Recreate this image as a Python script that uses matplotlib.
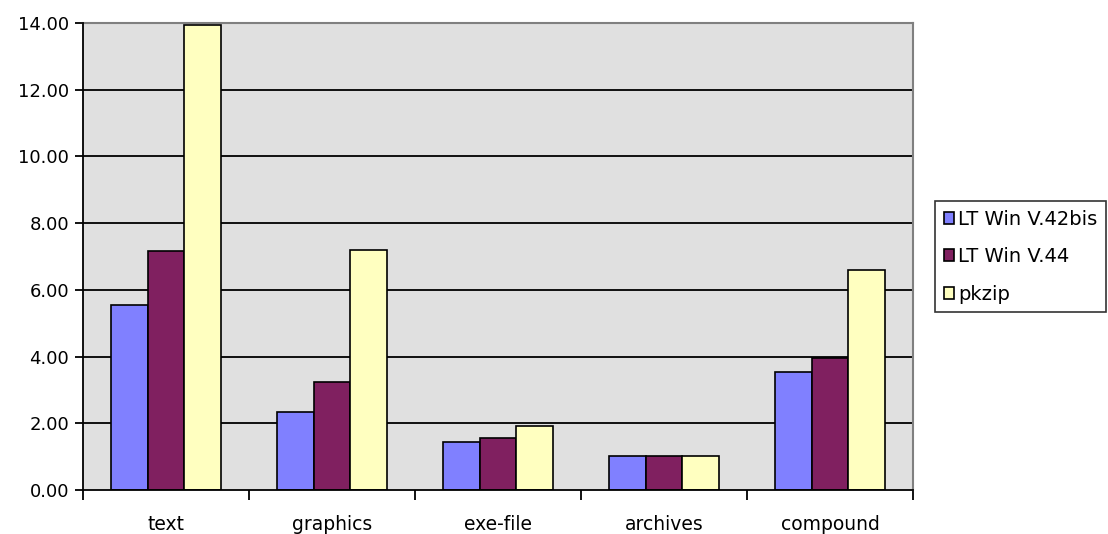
import numpy as np
import matplotlib.pyplot as plt
from matplotlib.ticker import FixedLocator, NullFormatter

plt.rcParams['font.family'] = ['DejaVu Sans']

categories = ["text", "graphics", "exe-file", "archives", "compound"]
series_names = ["LT Win V.42bis", "LT Win V.44", "pkzip"]
v42bis = [5.55, 2.35, 1.45, 1.02, 3.55]
v44 = [7.15, 3.25, 1.55, 1.02, 3.95]
pkzip = [13.95, 7.2, 1.93, 1.02, 6.6]
y_ticks = [0, 2, 4, 6, 8, 10, 12, 14]

colors = ["#8080FF", "#802060", "#FFFFC0"]

fig = plt.figure(figsize=(11.08, 5.34), dpi=100)
ax = fig.add_axes([83 / 1108, 44 / 534, 830 / 1108, 467 / 534])
ax.set_facecolor("#E0E0E0")

x = np.arange(len(categories))
width = 0.221
for i, (vals, name, col) in enumerate(zip([v42bis, v44, pkzip], series_names, colors)):
    ax.bar(x + (i - 1) * width, vals, width, color=col, edgecolor="black",
           linewidth=1.2, label=name, zorder=3)

ax.set_xlim(-0.5, len(categories) - 0.5)
ax.set_ylim(0, 14)
ax.set_yticks(y_ticks)
ax.set_yticklabels(["%.2f" % t for t in y_ticks], fontsize=13)
for t in y_ticks[1:-1]:
    ax.axhline(t, color="black", linewidth=1.3, zorder=1)

ax.set_xticks(x)
ax.set_xticklabels(categories, fontsize=13.5)
ax.tick_params(axis="x", which="major", length=0, pad=18)
ax.xaxis.set_minor_locator(FixedLocator(np.arange(-0.5, len(categories), 1.0)))
ax.xaxis.set_minor_formatter(NullFormatter())
ax.tick_params(axis="x", which="minor", length=7, width=1.3, color="black")
ax.tick_params(axis="y", length=6, width=1.3, color="black", pad=4)

for side in ["left", "bottom"]:
    ax.spines[side].set_color("black")
    ax.spines[side].set_linewidth(1.3)
    ax.spines[side].set_zorder(4)
for side in ["top", "right"]:
    ax.spines[side].set_color("#808080")
    ax.spines[side].set_linewidth(1.5)

leg = fig.legend(loc="upper left", bbox_to_anchor=(935 / 1108, 1 - 201 / 534),
                 fontsize=14, frameon=True, fancybox=False, handlelength=0.55,
                 handleheight=0.55, handletextpad=0.2, labelspacing=0.95,
                 borderpad=0.45, borderaxespad=0)
leg.get_frame().set_edgecolor("black")
leg.get_frame().set_linewidth(1.2)

fig.savefig("out.png", dpi=100)
